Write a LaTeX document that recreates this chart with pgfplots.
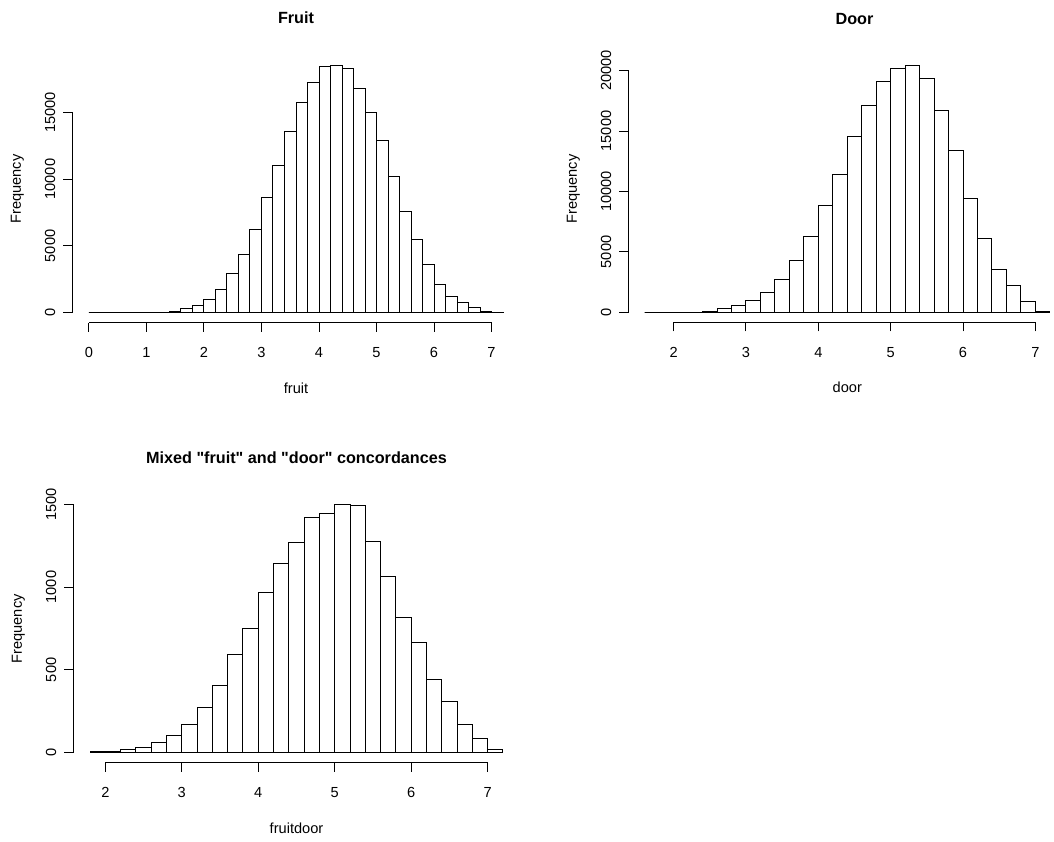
\documentclass[border=0pt]{standalone}
\usepackage{pgfplots}
\pgfplotsset{compat=1.18}
\usepackage{fontspec}
\setmainfont{Liberation Sans}

\newcommand{\lab}{\fontsize{7.3}{8}\selectfont}
% straight double quote, bypassing the TeX ligature mapping
\newcommand{\qq}{\XeTeXglyph\XeTeXcharglyph"22\relax}

\pgfplotsset{
  rhist/.style={
    scale only axis,
    anchor=south west,
    clip=false,
    axis x line*=bottom,
    axis y line*=left,
    axis line style={draw=none},
    tick align=outside,
    major tick length=4.65pt,
    every tick/.style={black, line width=0.5pt},
    /pgf/number format/assume math mode=true,
    /pgf/number format/1000 sep={},
    scaled ticks=false,
    tick label style={font=\lab},
    xticklabel style={anchor=north, inner sep=0pt},
    yticklabel style={rotate=90, anchor=base, inner sep=0pt},
    xticklabel shift=7.6pt,
    yticklabel shift=4pt,
    every axis title/.style={at={(axis description cs:0.5,1)}, anchor=base, yshift=15.7pt,
                 font=\bfseries\fontsize{8.1}{10}\selectfont},
    every axis x label/.style={at={(axis description cs:0.5,0)}, anchor=base, yshift=-35.3pt, font=\lab},
    every axis y label/.style={at={(axis description cs:0,0.5)}, xshift=-25.8pt, rotate=90, anchor=base, font=\lab},
    ylabel={Frequency},
  },
  hbar/.style={ybar interval, fill=white, draw=black, line width=0.5pt},
}

\begin{document}
\begin{tikzpicture}
\useasboundingbox (0,0) rectangle (527pt,420.5pt);

% Fruit
\begin{axis}[rhist,
  at={(36.2pt,259.2pt)}, width=223.6pt, height=133.65pt,
  xmin=-0.288, xmax=7.488, ymin=-741, ymax=19266,
  xtick={0,1,...,7}, ytick={0,5000,10000,15000},
  title={Fruit}, xlabel={fruit}]
\addplot[hbar] coordinates {
 (0.0,0) (0.2,0) (0.4,0) (0.6,0) (0.8,0) (1.0,0) (1.2,30) (1.4,80)
 (1.6,300) (1.8,530) (2.0,1025) (2.2,1710) (2.4,2900) (2.6,4345) (2.8,6220)
 (3.0,8590) (3.2,10980) (3.4,13525) (3.6,15710) (3.8,17240) (4.0,18430)
 (4.2,18505) (4.4,18245) (4.6,16750) (4.8,14950) (5.0,12925) (5.2,10225)
 (5.4,7600) (5.6,5450) (5.8,3575) (6.0,2125) (6.2,1225) (6.4,775) (6.6,375)
 (6.8,100) (7.0,20) (7.2,20)
};
\draw[line width=0.5pt] (axis cs:0,-741) -- (axis cs:7,-741);
\draw[line width=0.5pt] (axis cs:-0.288,0) -- (axis cs:-0.288,15000);
\end{axis}

% Door
\begin{axis}[rhist,
  at={(314.25pt,259.4pt)}, width=218.75pt, height=133.2pt,
  xmin=1.376, xmax=7.424, ymin=-816, ymax=21226,
  xtick={2,3,...,7}, ytick={0,5000,10000,15000,20000},
  title style={xshift=3.6pt},
  title={Door}, xlabel={door}]
\addplot[hbar] coordinates {
 (1.6,0) (1.8,0) (2.0,0) (2.2,20) (2.4,95) (2.6,280) (2.8,578) (3.0,940)
 (3.2,1670) (3.4,2710) (3.6,4310) (3.8,6280) (4.0,8880) (4.2,11420)
 (4.4,14580) (4.6,17110) (4.8,19100) (5.0,20190) (5.2,20410) (5.4,19360)
 (5.6,16660) (5.8,13380) (6.0,9460) (6.2,6070) (6.4,3560) (6.6,2180)
 (6.8,910) (7.0,55) (7.2,55)
};
\draw[line width=0.5pt] (axis cs:2,-816) -- (axis cs:7,-816);
\draw[line width=0.5pt] (axis cs:1.376,0) -- (axis cs:1.376,20000);
\end{axis}

% Mixed
\begin{axis}[rhist,
  at={(36.75pt,39.2pt)}, width=223pt, height=133.8pt,
  xmin=1.584, xmax=7.416, ymin=-59.8, ymax=1555.8,
  xtick={2,3,...,7}, ytick={0,500,1000,1500},
  title={Mixed \qq fruit\qq{} and \qq door\qq{} concordances}, xlabel={fruitdoor}]
\addplot[hbar] coordinates {
 (1.8,6) (2.0,6) (2.2,21) (2.4,34) (2.6,61) (2.8,101) (3.0,172) (3.2,273)
 (3.4,403) (3.6,595) (3.8,751) (4.0,969) (4.2,1142) (4.4,1271) (4.6,1421)
 (4.8,1442) (5.0,1498) (5.2,1490) (5.4,1277) (5.6,1063) (5.8,819) (6.0,668)
 (6.2,443) (6.4,308) (6.6,173) (6.8,87) (7.0,20) (7.2,20)
};
\draw[line width=0.5pt] (axis cs:2,-59.8) -- (axis cs:7,-59.8);
\draw[line width=0.5pt] (axis cs:1.584,0) -- (axis cs:1.584,1500);
\end{axis}
\end{tikzpicture}
\end{document}
